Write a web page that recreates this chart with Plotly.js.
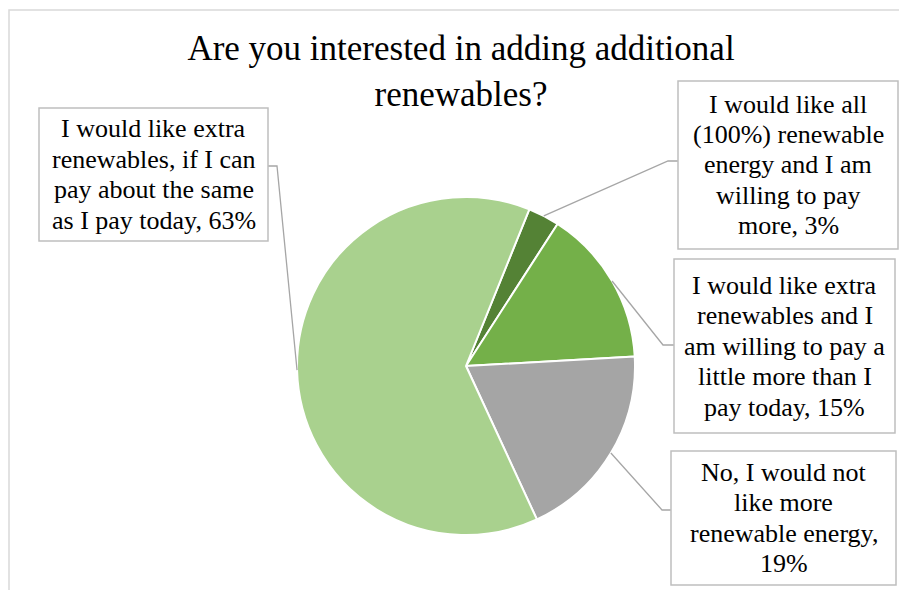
<!DOCTYPE html>
<html><head><meta charset="utf-8">
<script src="https://cdn.plot.ly/plotly-3.0.1.min.js"></script>
<style>html,body{margin:0;padding:0;background:#fff}#chart{width:899px;height:590px}</style>
</head><body><div id="chart"></div>
<script>
// ---- data ----
const categories = [
  "I would like all (100%) renewable energy and I am willing to pay more",
  "I would like extra renewables and I am willing to pay a little more than I pay today",
  "No, I would not like more renewable energy",
  "I would like extra renewables, if I can pay about the same as I pay today"
];
const shares = [3, 15, 19, 63];
const sliceColors = ["#548235", "#74B049", "#A5A5A5", "#A9D18E"];
const labelLines = [
  ["I would like all", "(100%) renewable", "energy and I am", "willing to pay", "more, {v}%"],
  ["I would like extra", "renewables and I", "am willing to pay a", "little more than I", "pay today, {v}%"],
  ["No, I would not", "like more", "renewable energy,", "{v}%"],
  ["I would like extra", "renewables, if I can", "pay about the same", "as I pay today, {v}%"]
];
const titleText = "Are you interested in adding additional<br>renewables?";

// ---- layout (pixels) ----
const W = 899, H = 590;
const cx = 466, cy = 366, R = 169, rotationDeg = 22;
const boxes = [[678, 81, 898, 249], [674, 259, 895, 433], [671, 451, 896, 585], [39, 108, 268, 241]];
const elbows = [[[668, 161], [678, 161]], [[663, 345], [674, 345]], [[662, 510], [671, 510]], [[277, 166], [268, 166]]];
const lineGap = 30.5;
const serif = "Liberation Serif";
const px = x => x / W, py = y => 1 - y / H;

const total = shares.reduce((a, b) => a + b, 0);
const shapes = [];
const annotations = [];

// outer chart border (cropped at right/bottom)
shapes.push({type: 'rect', xref: 'paper', yref: 'paper', x0: px(9), x1: px(910), y0: py(600), y1: py(10),
  line: {color: '#d9d9d9', width: 1.5}, fillcolor: 'rgba(0,0,0,0)', layer: 'below'});

let cum = 0;
shares.forEach((v, i) => {
  const mid = (rotationDeg + (cum + v / 2) / total * 360) * Math.PI / 180;
  cum += v;
  const ax = cx + R * Math.sin(mid), ay = cy - R * Math.cos(mid);
  const pts = [[ax, ay]].concat(elbows[i]);
  const path = pts.map((p, k) => (k ? 'L' : 'M') + px(p[0]) + ',' + py(p[1])).join(' ');
  shapes.push({type: 'path', xref: 'paper', yref: 'paper', path: path, line: {color: '#a6a6a6', width: 1.3}});
  const b = boxes[i];
  shapes.push({type: 'rect', xref: 'paper', yref: 'paper', x0: px(b[0]), x1: px(b[2]), y0: py(b[3]), y1: py(b[1]),
    line: {color: '#bfbfbf', width: 1.5}, fillcolor: 'rgba(255,255,255,0)'});
  const lines = labelLines[i];
  const bcx = (b[0] + b[2]) / 2, bcy = (b[1] + b[3]) / 2;
  lines.forEach((t, k) => {
    annotations.push({
      xref: 'paper', yref: 'paper', x: px(bcx), y: py(bcy + (k - (lines.length - 1) / 2) * lineGap),
      xanchor: 'center', yanchor: 'middle', showarrow: false,
      text: t.replace('{v}', v), font: {family: serif, size: 26, color: '#000000'}
    });
  });
});

const trace = {
  type: 'pie', labels: categories, values: shares, sort: false, direction: 'clockwise',
  rotation: rotationDeg, textinfo: 'none', hoverinfo: 'label+percent',
  marker: {colors: sliceColors, line: {color: '#ffffff', width: 2}},
  domain: {x: [px(cx - R), px(cx + R)], y: [py(cy + R), py(cy - R)]},
  showlegend: false
};

const layout = {
  width: W, height: H, margin: {l: 0, r: 0, t: 0, b: 0},
  paper_bgcolor: '#ffffff', plot_bgcolor: '#ffffff', showlegend: false,
  font: {family: serif, color: '#000000'},
  title: {text: titleText, font: {family: serif, size: 35, color: '#000000'},
    x: px(461), xanchor: 'center', xref: 'paper', y: 1 - 60 / H, yanchor: 'middle', yref: 'container'},
  shapes: shapes, annotations: annotations
};

Plotly.newPlot('chart', [trace], layout, {displayModeBar: false, staticPlot: true});
</script>
</body></html>
